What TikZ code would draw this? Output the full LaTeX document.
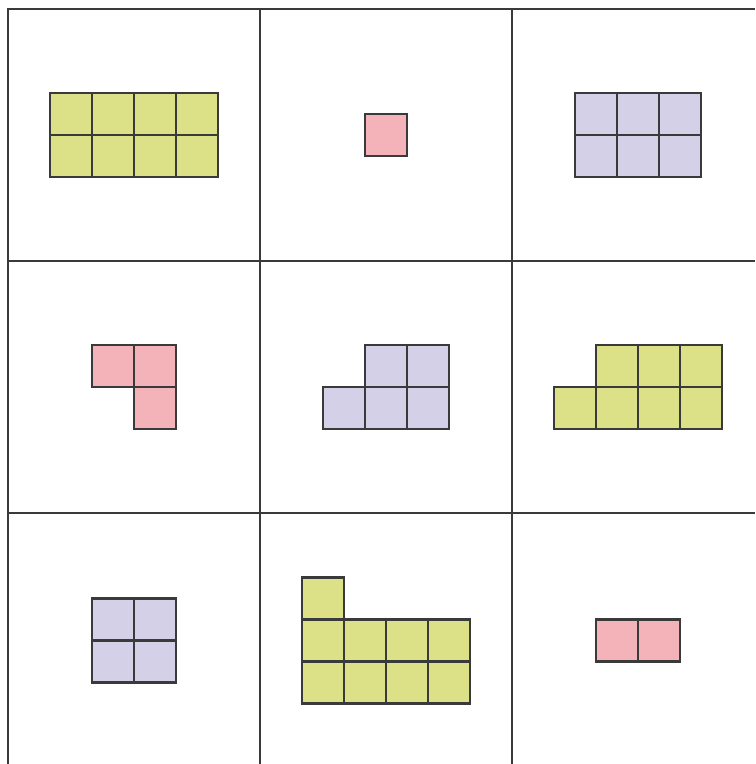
\documentclass[tikz,border=0pt]{standalone}
\definecolor{sqgreen}{HTML}{DCE187}
\definecolor{sqpink}{HTML}{F4B3B8}
\definecolor{sqpurple}{HTML}{D3D0E8}
\definecolor{edge}{HTML}{3A3A3A}
\begin{document}
\begin{tikzpicture}[x=0.42cm,y=-0.42cm,
  gridline/.style={draw=edge,line width=0.7pt},
  tile/.style={draw=edge,line width=0.7pt},
  g/.style={tile,fill=sqgreen},
  p/.style={tile,fill=sqpink},
  v/.style={tile,fill=sqpurple}]
\useasboundingbox (-0.1905,-0.2143) rectangle (17.786,17.976);
\fill[white] (-0.1905,-0.2143) rectangle (17.786,17.976);
% grid
\draw[gridline] (0,17.976) -- (0,0) -- (17.786,0);
\draw[gridline] (6,0) -- (6,17.976);
\draw[gridline] (12,0) -- (12,17.976);
\draw[gridline] (0,6) -- (17.786,6);
\draw[gridline] (0,12) -- (17.786,12);
% cell (0,0): 4x2 green
\begin{scope}[shift={(0,0)}]
  \foreach \i in {1,...,4} \foreach \j in {2,3} \draw[g] (\i,\j) rectangle ++(1,1);
\end{scope}
% cell (1,0): single pink
\begin{scope}[shift={(6,0)}]
  \draw[p] (2.5,2.5) rectangle ++(1,1);
\end{scope}
% cell (2,0): 3x2 purple
\begin{scope}[shift={(12,0)}]
  \foreach \i in {1.5,2.5,3.5} \foreach \j in {2,3} \draw[v] (\i,\j) rectangle ++(1,1);
\end{scope}
% cell (0,1): pink L
\begin{scope}[shift={(0,6)}]
  \draw[p] (2,2) rectangle ++(1,1);
  \draw[p] (3,2) rectangle ++(1,1);
  \draw[p] (3,3) rectangle ++(1,1);
\end{scope}
% cell (1,1): purple
\begin{scope}[shift={(6,6)}]
  \foreach \i in {2.5,3.5} \draw[v] (\i,2) rectangle ++(1,1);
  \foreach \i in {1.5,2.5,3.5} \draw[v] (\i,3) rectangle ++(1,1);
\end{scope}
% cell (2,1): green
\begin{scope}[shift={(12,6)}]
  \foreach \i in {2,3,4} \draw[g] (\i,2) rectangle ++(1,1);
  \foreach \i in {1,2,3,4} \draw[g] (\i,3) rectangle ++(1,1);
\end{scope}
% cell (0,2): purple 2x2
\begin{scope}[shift={(0,12.04)}]
  \foreach \i in {2,3} \foreach \j in {2,3} \draw[v] (\i,\j) rectangle ++(1,1);
\end{scope}
% cell (1,2): green
\begin{scope}[shift={(6,12.04)}]
  \draw[g] (1,1.5) rectangle ++(1,1);
  \foreach \i in {1,...,4} \foreach \j in {2.5,3.5} \draw[g] (\i,\j) rectangle ++(1,1);
\end{scope}
% cell (2,2): pink 2x1
\begin{scope}[shift={(12,12.04)}]
  \foreach \i in {2,3} \draw[p] (\i,2.5) rectangle ++(1,1);
\end{scope}
\end{tikzpicture}
\end{document}
